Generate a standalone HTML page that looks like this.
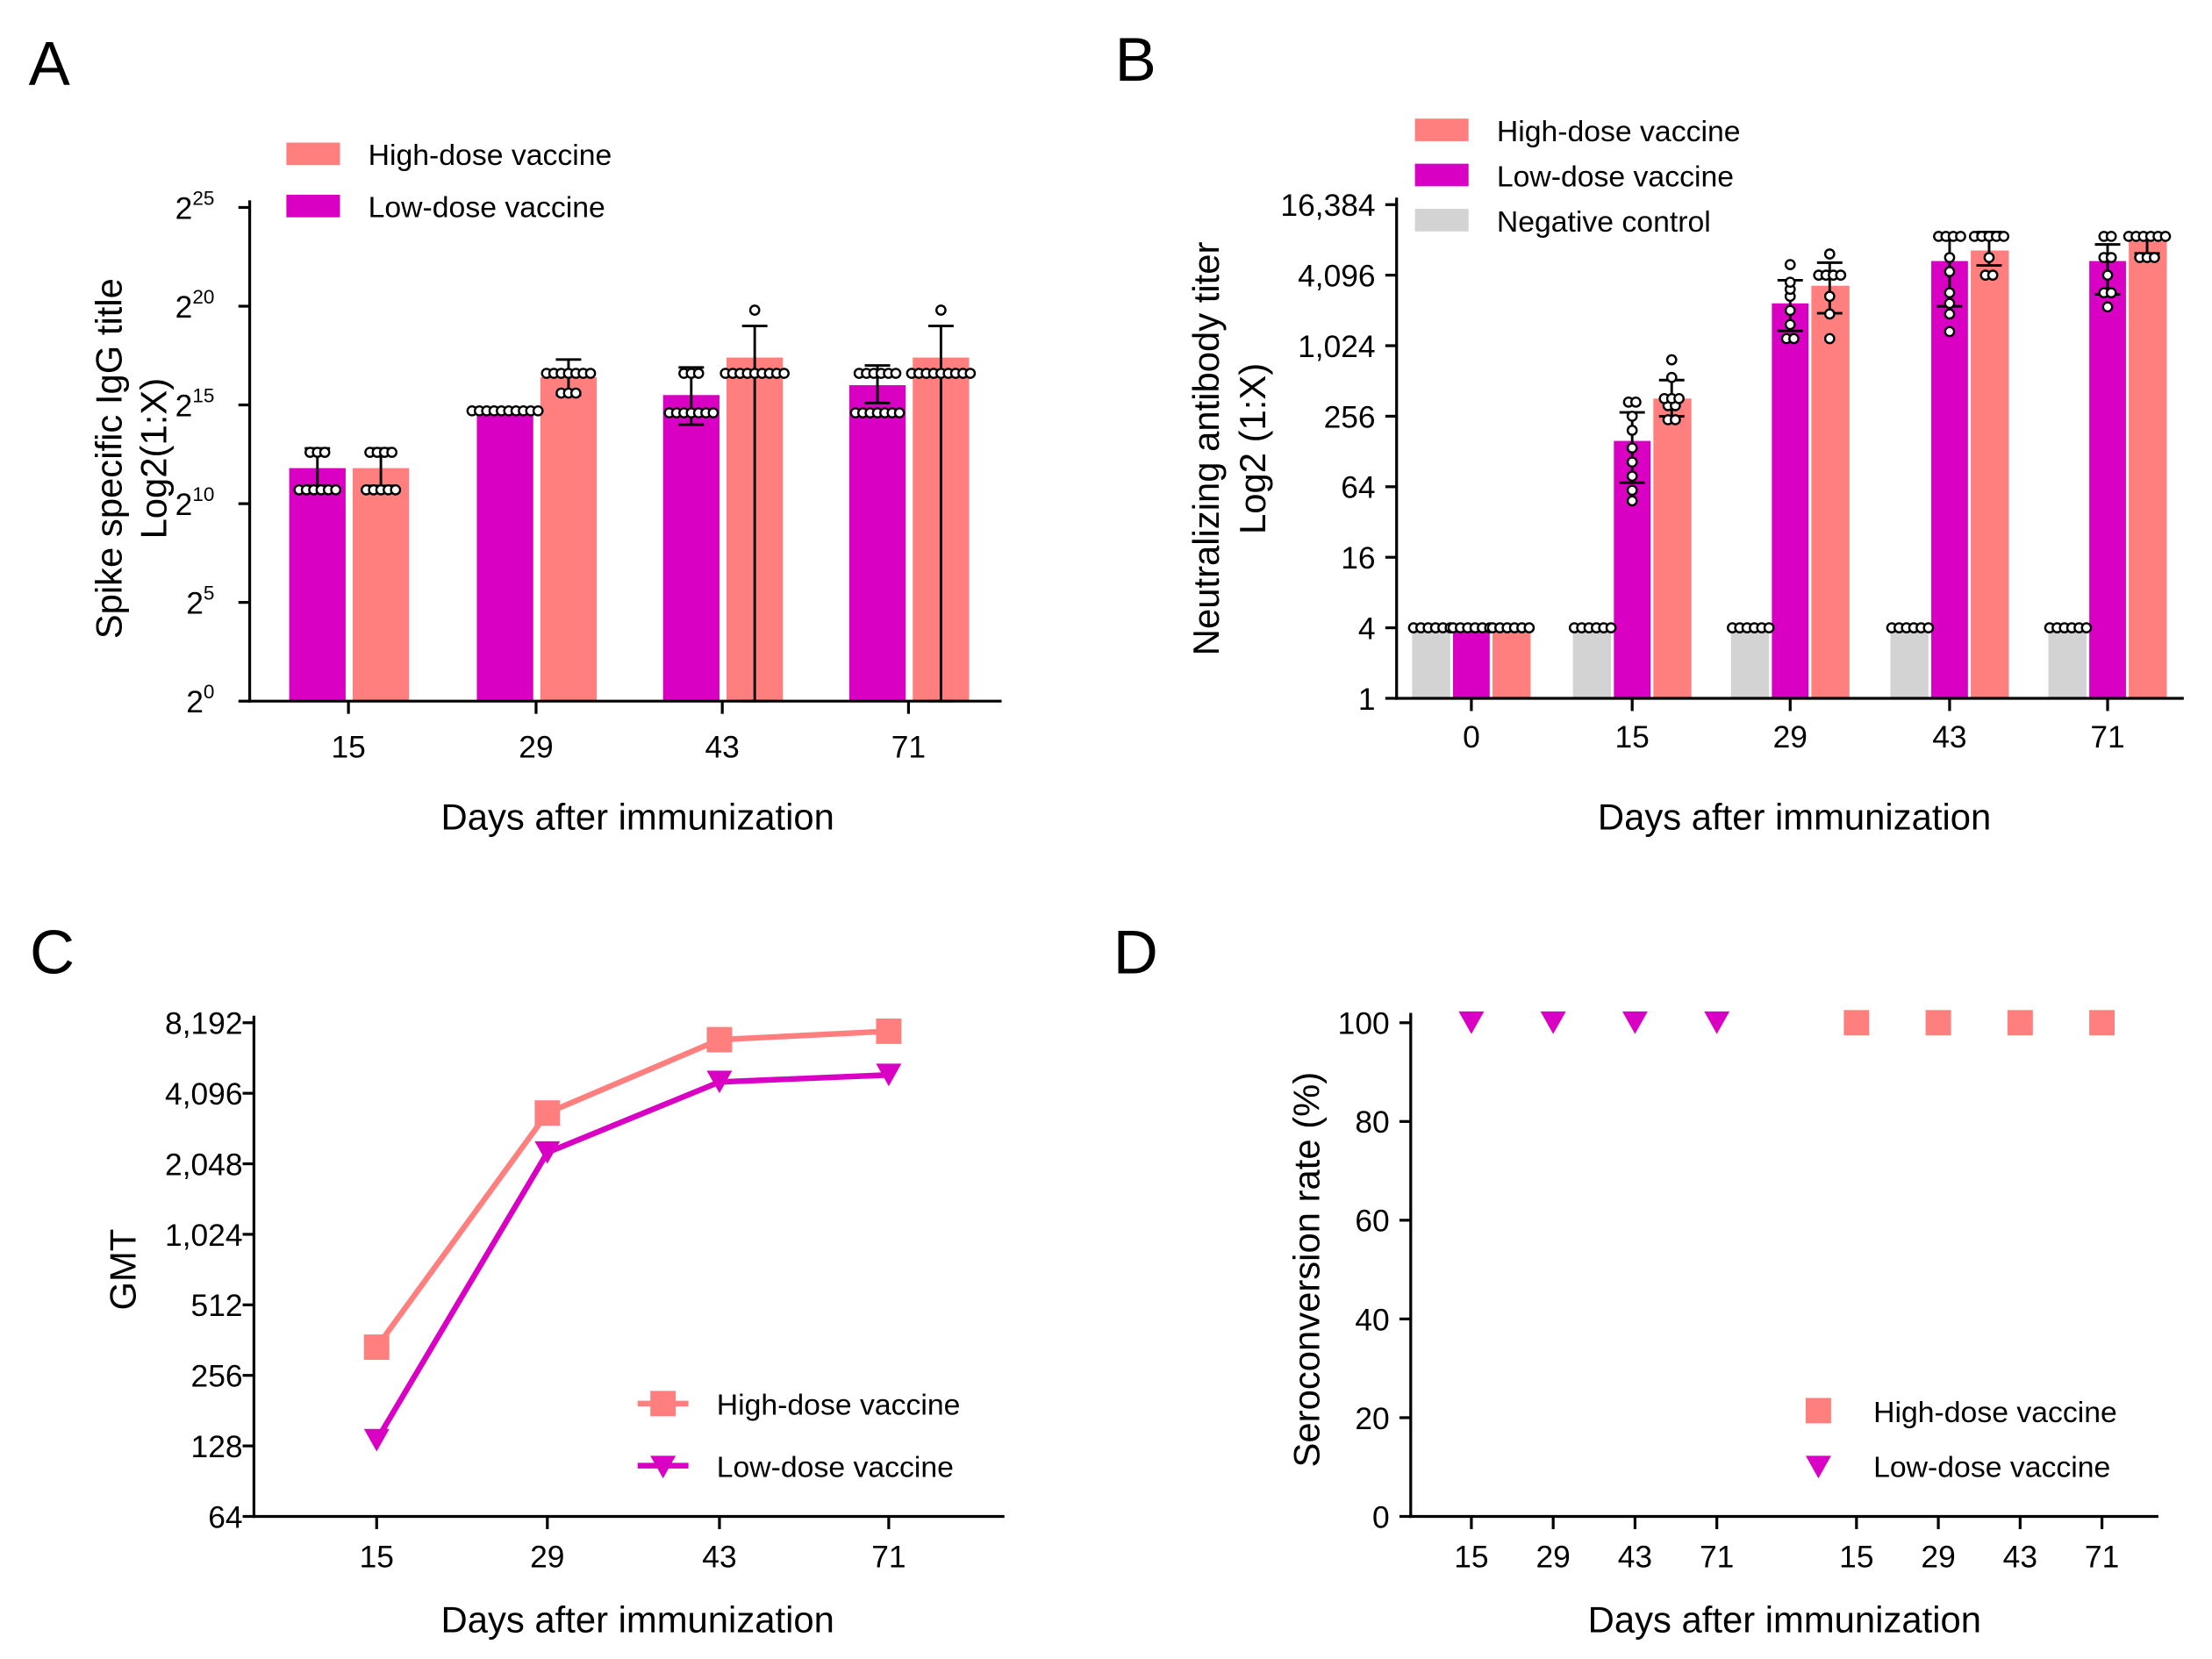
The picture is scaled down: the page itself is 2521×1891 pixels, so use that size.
<!DOCTYPE html>
<html><head><meta charset="utf-8"><style>
html,body{margin:0;padding:0;background:#fff;}
svg{display:block;font-family:"Liberation Sans",Arial,sans-serif;}
</style></head><body>
<svg id="fig" width="2521" height="1891" viewBox="0 0 1568 1176" xmlns="http://www.w3.org/2000/svg">
<rect width="1568" height="1176" fill="#fff"/>
<g id="A"></g>
<g id="B"></g>
<g id="C"></g>
<g id="D"></g>
</svg>
<script>
const PINK='#ff7f7f', PURP='#d900c3', GRAY='#d3d3d3';
// Panel A data (log2)
const aDays=['15','29','43','71'];
const aLow=[11.8,14.6,15.5,16.0];
const aHigh=[11.8,16.4,17.4,17.4];
const aLowErr=[[10.9,12.8],[14.6,14.6],[14.0,16.9],[15.1,17.0]];
const aHighErr=[[10.9,12.8],[15.5,17.3],[0,19.0],[0,19.0]];
const aLowPts=[[10.7,10.7,10.7,10.7,10.7,10.7,12.6,12.6,12.6],[14.7,14.7,14.7,14.7,14.7,14.7,14.7,14.7,14.7,14.7],[14.6,14.6,14.6,14.6,14.6,14.6,14.6,16.6,16.6,16.6],[14.6,14.6,14.6,14.6,14.6,14.6,14.6,16.6,16.6,16.6,16.6,16.6,16.6]];
const aHighPts=[[10.7,10.7,10.7,10.7,10.7,12.6,12.6,12.6,12.6],[15.6,15.6,15.6,16.6,16.6,16.6,16.6,16.6,16.6,16.6],[16.6,16.6,16.6,16.6,16.6,16.6,16.6,16.6,16.6,19.8],[16.6,16.6,16.6,16.6,16.6,16.6,16.6,16.6,16.6,19.8]];
const aTicks=[0,5,10,15,20,25];
// Panel B data (log2)
const bDays=['0','15','29','43','71'];
const bGray=[2,2,2,2,2];
const bLow=[2,7.3,11.2,12.4,12.4];
const bHigh=[2,8.5,11.7,12.7,12.96];
const bLowPts=[[2,2,2,2,2,2],[5.6,5.9,6.3,6.7,7.1,7.6,8.0,8.4,8.4],[10.2,10.2,10.6,11.0,11.4,11.6,11.8,12.3],[10.4,10.9,11.2,11.5,12.1,12.5,13.1,13.1,13.1,13.1],[11.1,11.5,11.5,12.0,12.5,12.5,13.1,13.1]];
const bHighPts=[[2,2,2,2,2,2],[7.9,7.9,8.3,8.3,8.5,8.5,8.5,9.1,9.6],[10.2,10.9,11.4,12.0,12.0,12.0,12.0,12.6],[12.0,12.0,12.5,13.1,13.1,13.1,13.1,13.1],[12.5,12.5,12.5,13.1,13.1,13.1,13.1,13.1,13.1]];
const bTicks=['1','4','16','64','256','1,024','4,096','16,384'];
// Panel C data (log2 GMT)
const cDays=['15','29','43','71'];
const cHigh=[8.4,11.72,12.76,12.88];
const cLow=[7.08,11.16,12.16,12.26];
const cTicks=['64','128','256','512','1,024','2,048','4,096','8,192'];
// Panel D data (%)
const dDays=['15','29','43','71','15','29','43','71'];
const dLow=[100,100,100,100,null,null,null,null];
const dHigh=[null,null,null,null,100,100,100,100];
const dTicks=[0,20,40,60,80,100];

const NS='http://www.w3.org/2000/svg';
function el(p,tag,attrs,name,txt){const e=document.createElementNS(NS,tag);for(const k in attrs)e.setAttribute(k,attrs[k]);


if(txt!==undefined)e.textContent=txt;p.appendChild(e);return e;}
function txt(p,x,y,s,size,name,anchor,extra){return el(p,'text',Object.assign({x:x,y:y,'font-size':size,'text-anchor':anchor||'middle',fill:'#000'},extra||{}),name,s);}
function line(p,x1,y1,x2,y2,name,w,col){return el(p,'line',{x1,y1,x2,y2,stroke:col||'#000','stroke-width':w||2},name);}
function dots(p,cx,vals,ys,name){const groups={};vals.forEach(v=>{groups[v]=(groups[v]||0)+1;});
 for(const v in groups){const n=groups[v];for(let i=0;i<n;i++){const x=cx+(i-(n-1)/2)*5.2;el(p,'circle',{cx:x,cy:ys(+v),r:3.2,fill:'#fff',stroke:'#000','stroke-width':1.5},name);}}}
function errbar(p,cx,lo,hi,ys,name){line(p,cx,ys(lo),cx,ys(hi),name,1.8);line(p,cx-9,ys(lo),cx+9,ys(lo),name,1.8);line(p,cx-9,ys(hi),cx+9,ys(hi),name,1.8);}
function legendBox(p,x,y,c,label,name){el(p,'rect',{x:x,y:y-8,width:38,height:16,fill:c},name+'-swatch');txt(p,x+58,y+8,label,21,name,'start');}

// ---------- Panel A
(function(){const g=document.getElementById('A');
 const x0=177,yb=497,ys=v=>yb-v*14,cx=[247,380,512,644];
 txt(g,35,60,'A',44,'panel-label-a');
 aDays.forEach((d,i)=>{const c=cx[i];
  el(g,'rect',{x:c-42,y:ys(aLow[i]),width:40,height:yb-ys(aLow[i]),fill:PURP},'bar-low-day'+d);
  el(g,'rect',{x:c+3,y:ys(aHigh[i]),width:40,height:yb-ys(aHigh[i]),fill:PINK},'bar-high-day'+d);
  errbar(g,c-22,aLowErr[i][0],aLowErr[i][1],ys,'errorbar-low-day'+d);
  errbar(g,c+23,aHighErr[i][0],aHighErr[i][1],ys,'errorbar-high-day'+d);
  dots(g,c-22,aLowPts[i],ys,'point-low-day'+d);dots(g,c+23,aHighPts[i],ys,'point-high-day'+d);
  line(g,c,yb,c,yb+9,'x-tick');txt(g,c,537,d,22,'x-tick-label');});
 line(g,x0,142,x0,yb+1,'y-axis');line(g,x0-1,yb,710,yb,'x-axis');
 aTicks.forEach(t=>{const y=ys(t);line(g,x0-8,y,x0,y,'y-tick');const e=txt(g,152,y+8,'2',22,'y-tick-label','end');
  el(e,'tspan',{'font-size':14,dy:-10},'y-tick-exponent',String(t));});
 txt(g,452,588,'Days after immunization',26,'x-axis-title');
 txt(g,0,0,'Spike specific IgG title',26,'y-axis-title','middle',{transform:'translate(86,325) rotate(-90)'});
 txt(g,0,0,'Log2(1:X)',26,'y-axis-title-2','middle',{transform:'translate(118,325) rotate(-90)'});
 legendBox(g,203,109,PINK,'High-dose vaccine','legend-high-dose');
 legendBox(g,203,146,PURP,'Low-dose vaccine','legend-low-dose');
})();

// ---------- Panel B
(function(){const g=document.getElementById('B');
 const x0=990,yb=495,ys=v=>yb-v*25,cx=[1043,1157,1269,1382,1494];
 txt(g,805,57,'B',44,'panel-label-b');
 bDays.forEach((d,i)=>{const c=cx[i];
  el(g,'rect',{x:c-42,y:ys(bGray[i]),width:27,height:yb-ys(bGray[i]),fill:GRAY},'bar-negative-day'+d);
  el(g,'rect',{x:c-13,y:ys(bLow[i]),width:26,height:yb-ys(bLow[i]),fill:PURP},'bar-low-day'+d);
  el(g,'rect',{x:c+15,y:ys(bHigh[i]),width:27,height:yb-ys(bHigh[i]),fill:PINK},'bar-high-day'+d);
  dots(g,c-28,[2,2,2,2,2,2],ys,'point-negative-day'+d);
  [[bLowPts[i],c,'low'],[bHighPts[i],c+28,'high']].forEach(([pts,x,n])=>{
   if(i>0){const m=pts.reduce((a,b)=>a+b,0)/pts.length;const sd=Math.sqrt(pts.reduce((a,b)=>a+(b-m)*(b-m),0)/pts.length);
    errbar(g,x,m-sd,m+sd,ys,'errorbar-'+n+'-day'+d);}
   dots(g,x,pts,ys,'point-'+n+'-day'+d);});
  line(g,c,yb,c,yb+9,'x-tick');txt(g,c,530,d,22,'x-tick-label');});
 line(g,x0,140,x0,yb+1,'y-axis');line(g,x0-1,yb,1548,yb,'x-axis');
 bTicks.forEach((t,i)=>{const y=ys(i*2);line(g,x0-8,y,x0,y,'y-tick');txt(g,975,y+8,t,22,'y-tick-label','end');});
 txt(g,1272,588,'Days after immunization',26,'x-axis-title');
 txt(g,0,0,'Neutralizing antibody titer',26,'y-axis-title','middle',{transform:'translate(864,318) rotate(-90)'});
 txt(g,0,0,'Log2 (1:X)',26,'y-axis-title-2','middle',{transform:'translate(897,318) rotate(-90)'});
 legendBox(g,1003,92,PINK,'High-dose vaccine','legend-high-dose');
 legendBox(g,1003,124,PURP,'Low-dose vaccine','legend-low-dose');
 legendBox(g,1003,156,GRAY,'Negative control','legend-negative-control');
})();

// ---------- Panel C
(function(){const g=document.getElementById('C');
 const x0=180,yb=1075,ys=v=>yb-(v-6)*50,cx=[267,388,510,630];
 txt(g,37,690,'C',44,'panel-label-c');
 line(g,x0,720,x0,yb+1,'y-axis');line(g,x0-1,yb,712,yb,'x-axis');
 cTicks.forEach((t,i)=>{const y=yb-i*50;line(g,x0-8,y,x0,y,'y-tick');txt(g,172,y+8,t,22,'y-tick-label','end');});
 cDays.forEach((d,i)=>{line(g,cx[i],yb,cx[i],yb+9,'x-tick');txt(g,cx[i],1111,d,22,'x-tick-label');});
 el(g,'polyline',{points:cHigh.map((v,i)=>cx[i]+','+ys(v)).join(' '),fill:'none',stroke:PINK,'stroke-width':4},'line-high-dose');
 el(g,'polyline',{points:cLow.map((v,i)=>cx[i]+','+ys(v)).join(' '),fill:'none',stroke:PURP,'stroke-width':4},'line-low-dose');
 cHigh.forEach((v,i)=>el(g,'rect',{x:cx[i]-9,y:ys(v)-9,width:18,height:18,fill:PINK},'marker-high-day'+cDays[i]));
 cLow.forEach((v,i)=>el(g,'path',{d:`M${cx[i]-9},${ys(v)-8} L${cx[i]+9},${ys(v)-8} L${cx[i]},${ys(v)+8}Z`,fill:PURP},'marker-low-day'+cDays[i]));
 txt(g,452,1157,'Days after immunization',26,'x-axis-title');
 txt(g,0,0,'GMT',26,'y-axis-title','middle',{transform:'translate(96,900) rotate(-90)'});
 line(g,452,995,488,995,'legend-high-line',4,PINK);el(g,'rect',{x:461,y:986,width:18,height:18,fill:PINK},'legend-high-marker');
 txt(g,508,1003,'High-dose vaccine',21,'legend-high-dose','start');
 line(g,452,1039,488,1039,'legend-low-line',4,PURP);el(g,'path',{d:'M461,1032 L479,1032 L470,1048Z',fill:PURP},'legend-low-marker');
 txt(g,508,1047,'Low-dose vaccine',21,'legend-low-dose','start');
})();

// ---------- Panel D
(function(){const g=document.getElementById('D');
 const x0=1000,yb=1075,ys=v=>yb-v*3.5,cx=[1043,1101,1159,1217,1316,1374,1432,1490];
 txt(g,805,690,'D',44,'panel-label-d');
 line(g,x0,718,x0,yb+1,'y-axis');line(g,x0-1,yb,1530,yb,'x-axis');
 dTicks.forEach(t=>{const y=ys(t);line(g,x0-8,y,x0,y,'y-tick');txt(g,985,y+8,String(t),22,'y-tick-label','end');});
 dDays.forEach((d,i)=>{line(g,cx[i],yb,cx[i],yb+9,'x-tick');txt(g,cx[i],1111,d,22,'x-tick-label');});
 dLow.forEach((v,i)=>{if(v!==null)el(g,'path',{d:`M${cx[i]-9},${ys(v)-8} L${cx[i]+9},${ys(v)-8} L${cx[i]},${ys(v)+8}Z`,fill:PURP},'marker-low-'+i);});
 dHigh.forEach((v,i)=>{if(v!==null)el(g,'rect',{x:cx[i]-9,y:ys(v)-9,width:18,height:18,fill:PINK},'marker-high-'+i);});
 txt(g,1265,1157,'Days after immunization',26,'x-axis-title');
 txt(g,0,0,'Seroconversion rate (%)',26,'y-axis-title','middle',{transform:'translate(935,900) rotate(-90)'});
 el(g,'rect',{x:1280,y:991,width:18,height:18,fill:PINK},'legend-high-marker');
 txt(g,1328,1008,'High-dose vaccine',21,'legend-high-dose','start');
 el(g,'path',{d:'M1280,1032 L1298,1032 L1289,1048Z',fill:PURP},'legend-low-marker');
 txt(g,1328,1047,'Low-dose vaccine',21,'legend-low-dose','start');
})();
</script>
</body></html>
